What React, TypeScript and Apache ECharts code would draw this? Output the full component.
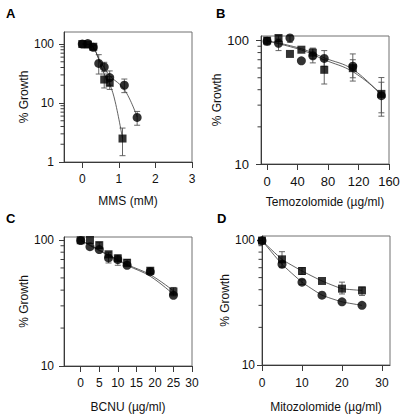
import React, { useEffect, useRef } from 'react';
import * as echarts from 'echarts';

// ---------- Panel A: MMS (mM) ----------
const aXTicks = [0, 1, 2, 3];
const aYTicks = [1, 10, 100];
const aYMinor = [2, 3, 4, 5, 6, 7, 8, 9, 20, 30, 40, 50, 60, 70, 80, 90];
const aCircles = [[0, 100], [0.15, 102], [0.3, 88], [0.45, 47], [0.6, 41], [0.75, 27], [1.15, 20], [1.5, 5.7]];
const aSquares = [[0, 100], [0.15, 98], [0.3, 90], [0.6, 25], [0.75, 22], [1.1, 2.5]];
const aCircleErr = [[0.3, 80, 95], [0.45, 31, 66], [0.6, 34, 49], [0.75, 20, 35], [1.15, 15, 25.5], [1.5, 4.2, 7.2]];
const aSquareErr = [[0.6, 18, 31], [0.75, 17, 28], [1.1, 1.28, 3.76]];
const aCircleFit = [[0, 100], [0.15, 99], [0.3, 88], [0.45, 57], [0.6, 40], [0.75, 29], [1.15, 17], [1.5, 5.8]];
const aSquareFit = [[0, 100], [0.15, 98], [0.3, 88], [0.45, 55], [0.6, 31], [0.75, 21], [0.9, 10.5], [1.1, 2.5]];

// ---------- Panel B: Temozolomide ----------
const bXTicks = [0, 40, 80, 120, 160];
const bYTicks = [10, 100];
const bYMinor = [20, 30, 40, 50, 60, 70, 80, 90];
const bCircles = [[0, 99], [15, 95], [30, 105], [45, 68.6], [60, 75.4], [75, 71.7], [112.5, 62], [150, 35.8]];
const bSquares = [[0, 100], [15, 105], [30, 78], [45, 84.4], [60, 79.8], [75, 58], [112.5, 59.8], [150, 37]];
const bCircleErr = [[0, 92, 106], [15, 83, 103], [30, 97, 110], [60, 66, 86], [75, 62, 83], [112.5, 50, 78], [150, 24.4, 50.2]];
const bSquareErr = [[15, 98, 110], [60, 72, 87], [75, 44.5, 70], [112.5, 47, 70], [150, 26, 46]];
const bCircleFit = [[0, 100], [45, 86], [75, 72.5], [112.5, 58.5], [150, 36]];
const bSquareFit = [[0, 99], [45, 84], [75, 70], [112.5, 56], [150, 37]];

// ---------- Panel C: BCNU ----------
const cXTicks = [0, 5, 10, 15, 20, 25, 30];
const cYTicks = [10, 100];
const cYMinor = [20, 30, 40, 50, 60, 70, 80, 90];
const cCircles = [[0, 99], [2.5, 88.5], [5, 84], [7.5, 72], [10, 70], [12.5, 63], [18.75, 56], [25, 36.4]];
const cSquares = [[0, 99.5], [2.5, 100], [5, 91], [7.5, 77], [10, 71.5], [12.5, 66], [18.75, 57], [25, 39]];
const cCircleErr = [[7.5, 65.7, 80], [10, 63, 76]];
const cSquareErr = [[5, 86, 96], [12.5, 62, 70], [18.75, 54, 60], [25, 36, 42]];
const cCircleFit = [[0, 99], [12.5, 63], [18.75, 51.5], [25, 37]];
const cSquareFit = [[0, 100], [12.5, 64], [18.75, 53], [25, 39.5]];

// ---------- Panel D: Mitozolomide ----------
const dXTicks = [0, 10, 20, 30];
const dYTicks = [10, 100];
const dYMinor = [20, 30, 40, 50, 60, 70, 80, 90];
const dCircles = [[0, 98.8], [5, 64], [10, 46], [15, 36.2], [20, 32], [25, 30]];
const dSquares = [[0, 98.8], [5, 70], [10, 56.5], [15, 47], [20, 40.8], [25, 39.5]];
const dCircleErr = [[5, 61, 67], [10, 44, 48]];
const dSquareErr = [[5, 60, 80.6], [10, 53, 60], [20, 37, 46], [25, 36, 42]];

const FONT = '"Liberation Sans", Arial, Helvetica, sans-serif';
const AX = '#3a3a3a';
const FRAME = '#707070';
const LINE = '#3a3a3a';

type Panel = {
  grid: any;
  xMin: number; xMax: number; xTicks: number[];
  yMin: number; yMax: number; yTicks: number[]; yMinor: number[];
  xName: string; xNameGap: number; yNameGap: number;
  xLabelMargin: number; yLabelMargin: number; fontSize: number;
  circles: number[][]; squares: number[][];
  circleErr: number[][]; squareErr: number[][];
  circleFit: number[][] | null; squareFit: number[][] | null;
  smooth: boolean | number;
};

const panels: Panel[] = [
  {
    grid: { left: 64, top: 32, width: 128, height: 130 },
    xMin: -0.5, xMax: 3, xTicks: aXTicks, yMin: 1, yMax: 160, yTicks: aYTicks, yMinor: aYMinor,
    xName: 'MMS (mM)', xNameGap: 33, yNameGap: 33, xLabelMargin: 11, yLabelMargin: 10, fontSize: 12,
    circles: aCircles, squares: aSquares, circleErr: aCircleErr, squareErr: aSquareErr,
    circleFit: aCircleFit, squareFit: aSquareFit, smooth: 0.4,
  },
  {
    grid: { left: 261, top: 36, width: 128, height: 128 },
    xMin: -8, xMax: 160, xTicks: bXTicks, yMin: 10, yMax: 109, yTicks: bYTicks, yMinor: bYMinor,
    xName: 'Temozolomide (µg/ml)', xNameGap: 32, yNameGap: 25, xLabelMargin: 11, yLabelMargin: 12, fontSize: 13,
    circles: bCircles, squares: bSquares, circleErr: bCircleErr, squareErr: bSquareErr,
    circleFit: bCircleFit, squareFit: bSquareFit, smooth: 0.4,
  },
  {
    grid: { left: 64, top: 237, width: 128, height: 129 },
    xMin: -4.5, xMax: 30, xTicks: cXTicks, yMin: 10, yMax: 105.6, yTicks: cYTicks, yMinor: cYMinor,
    xName: 'BCNU (µg/ml)', xNameGap: 35, yNameGap: 16, xLabelMargin: 11, yLabelMargin: 10, fontSize: 12,
    circles: cCircles, squares: cSquares, circleErr: cCircleErr, squareErr: cSquareErr,
    circleFit: cCircleFit, squareFit: cSquareFit, smooth: 0.4,
  },
  {
    grid: { left: 262, top: 236, width: 128, height: 129 },
    xMin: 0, xMax: 32, xTicks: dXTicks, yMin: 10, yMax: 107.6, yTicks: dYTicks, yMinor: dYMinor,
    xName: 'Mitozolomide (µg/ml)', xNameGap: 36, yNameGap: 18, xLabelMargin: 12, yLabelMargin: 7, fontSize: 12,
    circles: dCircles, squares: dSquares, circleErr: dCircleErr, squareErr: dSquareErr,
    circleFit: null, squareFit: null, smooth: 0.15,
  },
];

const letters = [
  { t: 'A', left: 6, top: 7 },
  { t: 'B', left: 216, top: 7 },
  { t: 'C', left: 6, top: 212 },
  { t: 'D', left: 217, top: 212 },
];

function seg(x1: number, y1: number, x2: number, y2: number, stroke: string, lw: number) {
  return { type: 'line', shape: { x1, y1, x2, y2 }, style: { stroke, lineWidth: lw } };
}

function errSeries(data: number[][], i: number) {
  return {
    type: 'custom', xAxisIndex: i, yAxisIndex: i, data, z: 2, silent: true, clip: false,
    encode: { x: 0, y: [1, 2] },
    renderItem: (_p: any, api: any) => {
      const x = api.value(0);
      const lo = api.coord([x, api.value(1)]);
      const hi = api.coord([x, api.value(2)]);
      const w = 3;
      return {
        type: 'group',
        children: [
          seg(lo[0], lo[1], hi[0], hi[1], '#555', 0.9),
          seg(lo[0] - w, lo[1], lo[0] + w, lo[1], '#555', 0.9),
          seg(hi[0] - w, hi[1], hi[0] + w, hi[1], '#555', 0.9),
        ],
      };
    },
  };
}

function minorSeries(p: Panel, i: number) {
  return {
    type: 'custom', xAxisIndex: i, yAxisIndex: i, silent: true, clip: false, z: 1,
    data: p.yMinor.map((v) => [p.xMin, v]),
    encode: { x: 0, y: 1 },
    renderItem: (_p: any, api: any) => {
      const c = api.coord([api.value(0), api.value(1)]);
      return seg(c[0] - 3.5, c[1], c[0], c[1], AX, 1);
    },
  };
}

export default function App() {
  const ref = useRef<HTMLDivElement>(null);
  useEffect(() => {
    document.body.style.margin = '0';
    if (!ref.current) return;
    const chart = echarts.init(ref.current, null, { renderer: 'svg' });
    const grid: any[] = [];
    const xAxis: any[] = [];
    const yAxis: any[] = [];
    const series: any[] = [];
    panels.forEach((p, i) => {
      grid.push({ ...p.grid, show: true, borderColor: FRAME, borderWidth: 1, backgroundColor: 'transparent' });
      xAxis.push({
        type: 'value', gridIndex: i, min: p.xMin, max: p.xMax,
        splitLine: { show: false },
        axisLine: { show: true, onZero: false, lineStyle: { color: AX, width: 1 } },
        axisTick: { show: true, length: 6, customValues: p.xTicks, lineStyle: { color: AX } },
        axisLabel: {
          customValues: p.xTicks, margin: p.xLabelMargin, fontSize: p.fontSize, color: '#111', fontFamily: FONT,
          formatter: (v: number) => (p.xTicks.indexOf(v) >= 0 ? String(v) : ''),
        },
        name: p.xName, nameLocation: 'middle', nameGap: p.xNameGap,
        nameTextStyle: { fontSize: 12, color: '#111', fontFamily: FONT },
      });
      yAxis.push({
        type: 'log', logBase: 10, gridIndex: i, min: p.yMin, max: p.yMax,
        splitLine: { show: false },
        axisLine: { show: true, onZero: false, lineStyle: { color: AX, width: 1 } },
        axisTick: { show: true, length: 5, customValues: p.yTicks, lineStyle: { color: AX } },
        minorTick: { show: false },
        axisLabel: {
          customValues: p.yTicks, margin: p.yLabelMargin, fontSize: p.fontSize, color: '#111', fontFamily: FONT,
          formatter: (v: number) => {
            const l = Math.log10(v);
            return Math.abs(l - Math.round(l)) < 1e-6 ? String(Math.round(Math.pow(10, Math.round(l)))) : '';
          },
        },
        name: '% Growth', nameLocation: 'middle', nameGap: p.yNameGap,
        nameTextStyle: { fontSize: 12, color: '#111', fontFamily: FONT },
      });
      series.push(minorSeries(p, i));
      series.push(errSeries(p.circleErr, i));
      series.push(errSeries(p.squareErr, i));
      const circleLine = p.circleFit || p.circles;
      const squareLine = p.squareFit || p.squares;
      series.push({
        type: 'line', xAxisIndex: i, yAxisIndex: i, data: circleLine, smooth: p.smooth, symbol: 'none',
        lineStyle: { color: LINE, width: 0.8 }, z: 3, silent: true,
      });
      series.push({
        type: 'line', xAxisIndex: i, yAxisIndex: i, data: squareLine, smooth: p.smooth, symbol: 'none',
        lineStyle: { color: LINE, width: 0.8 }, z: 3, silent: true,
      });
      series.push({
        type: 'scatter', xAxisIndex: i, yAxisIndex: i, data: p.circles, symbol: 'circle', symbolSize: 9,
        itemStyle: { color: '#000' }, z: 4, silent: true,
      });
      series.push({
        type: 'scatter', xAxisIndex: i, yAxisIndex: i, data: p.squares, symbol: 'rect', symbolSize: 8,
        itemStyle: { color: '#000' }, z: 5, silent: true,
      });
    });
    chart.setOption({
      animation: false,
      backgroundColor: '#fff',
      grid, xAxis, yAxis, series,
      graphic: letters.map((l) => ({
        type: 'text', left: l.left, top: l.top,
        style: { text: l.t, font: `bold 13px ${FONT}`, fill: '#000' },
      })),
    });
    return () => chart.dispose();
  }, []);
  return <div ref={ref} style={{ width: 405, height: 419 }} />;
}
